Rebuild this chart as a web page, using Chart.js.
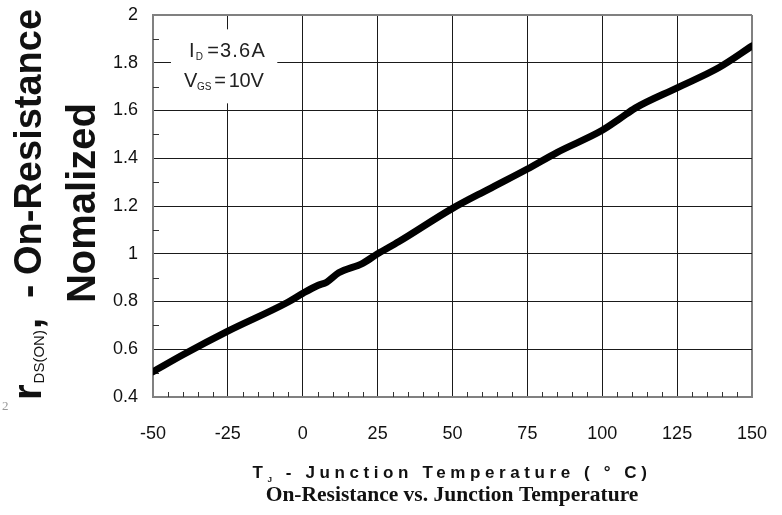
<!DOCTYPE html>
<html>
<head>
<meta charset="utf-8">
<title>On-Resistance vs. Junction Temperature</title>
<script src="https://cdn.jsdelivr.net/npm/chart.js@4.4.1/dist/chart.umd.min.js"></script>
<style>
  html, body { margin: 0; padding: 0; background: #fff; }
  #rdsChart { display: block; }
</style>
</head>
<body>
<canvas id="rdsChart" width="782" height="515"></canvas>
<script>
// junction temperature (°C) and normalized rDS(on)
const tempC = [-50, -40, -25, -5, 0, 5, 8, 12, 20, 25, 32, 50, 62, 75, 85, 100, 106, 111, 125, 139, 150];
const rdsNorm = [0.506, 0.577, 0.676, 0.797, 0.834, 0.867, 0.881, 0.92, 0.96, 1.0, 1.05, 1.19, 1.27, 1.355, 1.425, 1.517, 1.567, 1.61, 1.695, 1.78, 1.87];

const X_MIN = -50, X_MAX = 150, X_STEP = 25, X_MINOR = 5;
const Y_MIN = 0.4, Y_MAX = 2, Y_STEP = 0.2, Y_MINOR = 0.1;

const condLines = [
    [{t: 'I'}, {t: 'D', sub: true}, {t: '=3.6A', dx: 3}],
    [{t: 'V'}, {t: 'GS', sub: true}, {t: '=', dx: 3}, {t: '10V', dx: 3}]
];
const xTitle = [{t: 'T'}, {t: 'J', sub: true}, {t: ' - Junction Temperature ( \u00b0 C)'}];
const chartTitle = 'On-Resistance vs. Junction Temperature';

const SANS = '"Liberation Sans", Arial, sans-serif';
const SERIF = '"Liberation Serif", "Times New Roman", serif';

// draws a run of text pieces left to right, subscripts smaller and lower
const drawParts = (ctx, x, y, parts, font, subFont, subDy, spacing) => {
    ctx.letterSpacing = (spacing || 0) + 'px';
    let cx = x;
    parts.forEach(p => {
        if (p.at !== undefined) cx = x + p.at;
        cx += p.dx || 0;
        ctx.font = p.font || (p.sub ? subFont : font);
        ctx.fillText(p.t, cx, y + (p.sub ? subDy : 0));
        cx += ctx.measureText(p.t).width;
    });
    ctx.letterSpacing = '0px';
    return cx - x;
};

const measureParts = (ctx, parts, font, subFont, spacing) => {
    ctx.letterSpacing = (spacing || 0) + 'px';
    let w = 0;
    parts.forEach(p => {
        w += p.dx || 0;
        ctx.font = p.font || (p.sub ? subFont : font);
        w += ctx.measureText(p.t).width;
    });
    ctx.letterSpacing = '0px';
    return w;
};

const isEdge = (v, lo, hi) => Math.abs(v - lo) < 1e-6 || Math.abs(v - hi) < 1e-6;

const decorPlugin = {
    id: 'decor',
    beforeDatasetsDraw(chart) {
        const ctx = chart.ctx;
        const xs = chart.scales.x, ys = chart.scales.y;
        const area = chart.chartArea;
        ctx.save();
        // minor ticks along the left and bottom edges
        ctx.strokeStyle = '#333';
        ctx.lineWidth = 1;
        ctx.beginPath();
        for (let v = Y_MIN + Y_MINOR; v < Y_MAX - 1e-6; v += Y_STEP) {
            const py = Math.round(ys.getPixelForValue(v)) + 0.5;
            ctx.moveTo(area.left, py);
            ctx.lineTo(area.left + 6, py);
        }
        for (let v = X_MIN + X_MINOR; v < X_MAX; v += X_MINOR) {
            if (v % X_STEP === 0) continue;
            const px = Math.round(xs.getPixelForValue(v)) + 0.5;
            ctx.moveTo(px, area.bottom);
            ctx.lineTo(px, area.bottom - 5);
        }
        ctx.stroke();

        // test-condition box
        const bx = xs.getPixelForValue(-44), by = ys.getPixelForValue(1.94);
        const bx2 = xs.getPixelForValue(-8.5), by2 = ys.getPixelForValue(1.63);
        ctx.fillStyle = '#fff';
        ctx.fillRect(bx, by, bx2 - bx, by2 - by);
        ctx.fillStyle = '#222';
        ctx.textBaseline = 'alphabetic';
        ctx.textAlign = 'left';
        drawParts(ctx, bx + 18, by + 28, condLines[0], '20px ' + SANS, '10px ' + SANS, 3, 1.2);
        drawParts(ctx, bx + 13, by + 58, condLines[1], '20px ' + SANS, '10px ' + SANS, 3, -0.2);
        ctx.restore();
    },
    afterDraw(chart) {
        const ctx = chart.ctx;
        ctx.save();
        ctx.fillStyle = '#111';
        ctx.textAlign = 'left';
        ctx.textBaseline = 'alphabetic';

        // y-axis title, two rotated lines
        ctx.save();
        ctx.translate(41, 400);
        ctx.rotate(-Math.PI / 2);
        drawParts(ctx, 0, 0, [
            {t: 'r'},
            {t: 'DS(ON)', sub: true, dx: 1},
            {t: ',', dx: 1},
            {t: '-', at: 102},
            {t: 'On-Resistance', at: 125, font: 'bold 38px ' + SANS}
        ], 'bold 40px ' + SANS, '15px ' + SANS, 3, 0);
        ctx.restore();

        ctx.save();
        ctx.font = 'bold 40px ' + SANS;
        ctx.translate(95, 203);
        ctx.rotate(-Math.PI / 2);
        ctx.textAlign = 'center';
        ctx.fillText('Nomalized', 0, 0);
        ctx.restore();

        // x-axis title and caption
        const tf = 'bold 17px ' + SANS, tsf = 'bold 8px ' + SANS;
        const tw = measureParts(ctx, xTitle, tf, tsf, 4.6);
        drawParts(ctx, 452 - tw / 2, 478, xTitle, tf, tsf, 4, 4.6);

        ctx.font = 'bold 21.5px ' + SERIF;
        ctx.textAlign = 'center';
        ctx.fillText(chartTitle, 452, 501);

        // stray footnote mark at the lower left
        ctx.fillStyle = '#999';
        ctx.font = '13px ' + SERIF;
        ctx.textAlign = 'left';
        ctx.fillText('2', 2, 410);
        ctx.restore();
    }
};

const canvas = document.getElementById('rdsChart');
new Chart(canvas.getContext('2d'), {
    type: 'line',
    data: {
        datasets: [{
            data: tempC.map((t, i) => ({x: t, y: rdsNorm[i]})),
            borderColor: '#000',
            borderWidth: 7,
            pointRadius: 0,
            fill: false,
            cubicInterpolationMode: 'monotone',
            borderCapStyle: 'round',
            borderJoinStyle: 'round'
        }]
    },
    options: {
        responsive: false,
        animation: false,
        devicePixelRatio: 1,
        layout: {padding: {left: 0, right: 30, top: 15, bottom: 0}},
        plugins: {legend: {display: false}, tooltip: {enabled: false}},
        scales: {
            x: {
                type: 'linear',
                min: X_MIN,
                max: X_MAX,
                afterFit: s => {
                    s.height = 118;
                    s.paddingLeft = 0;
                    s.paddingRight = 0;
                },
                ticks: {
                    stepSize: X_STEP,
                    padding: 26,
                    color: '#111',
                    font: {family: SANS, size: 18}
                },
                grid: {
                    drawTicks: false,
                    color: c => isEdge(c.tick.value, X_MIN, X_MAX) ? '#808080' : '#1a1a1a',
                    lineWidth: c => isEdge(c.tick.value, X_MIN, X_MAX) ? 2 : 1
                },
                border: {color: '#808080', width: 2}
            },
            y: {
                min: Y_MIN,
                max: Y_MAX,
                afterFit: s => {
                    s.width = 153;
                    s.paddingTop = 0;
                    s.paddingBottom = 0;
                },
                ticks: {
                    stepSize: Y_STEP,
                    padding: 15,
                    color: '#111',
                    font: {family: SANS, size: 18},
                    callback: v => String(+v.toFixed(1))
                },
                grid: {
                    drawTicks: false,
                    color: c => isEdge(c.tick.value, Y_MIN, Y_MAX) ? '#808080' : '#1a1a1a',
                    lineWidth: c => isEdge(c.tick.value, Y_MIN, Y_MAX) ? 2 : 1
                },
                border: {color: '#808080', width: 2}
            }
        }
    },
    plugins: [decorPlugin]
});
</script>
</body>
</html>
